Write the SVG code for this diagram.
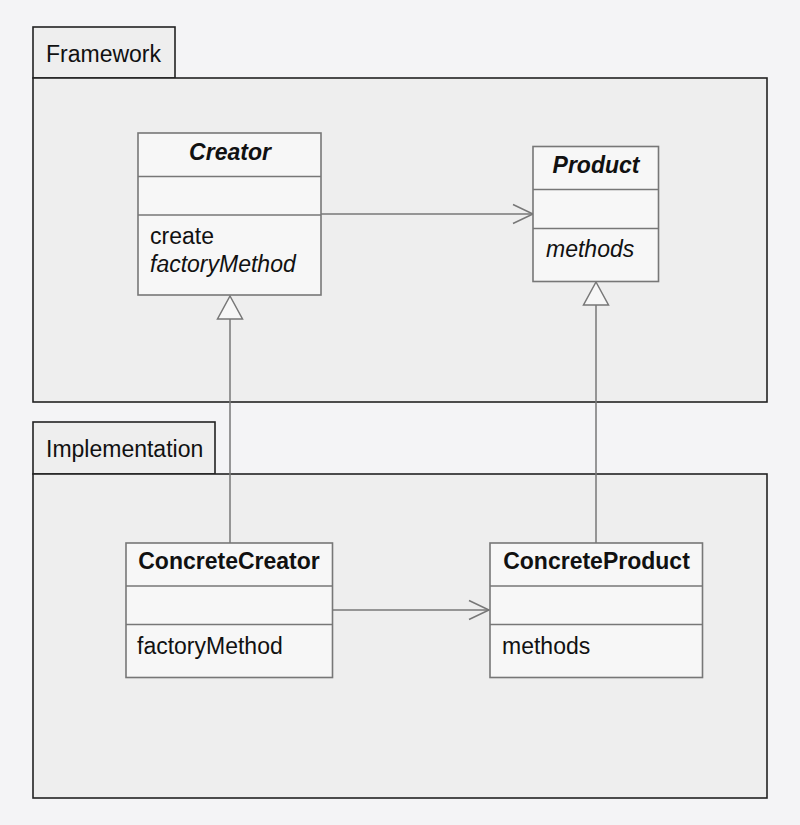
<svg xmlns="http://www.w3.org/2000/svg" width="800" height="825" viewBox="0 0 800 825">
<style>
.bg{fill:#f4f4f6}
.pkg{fill:#eeeeee;stroke:#222;stroke-width:1.6}
.box{fill:#f7f7f7;stroke:#777;stroke-width:1.6}
.sep{stroke:#777;stroke-width:1.6}
.t{font-family:"Liberation Sans",Arial,sans-serif;font-size:23px;fill:#111}
.b{font-weight:bold}
.i{font-style:italic}
.c{text-anchor:middle}
.ln{stroke:#777;stroke-width:1.5;fill:none}
.tri{fill:#f7f7f7;stroke:#777;stroke-width:1.5}
</style>
<defs>
<marker id="open" markerUnits="userSpaceOnUse" markerWidth="24" markerHeight="24" viewBox="-22 -12 24 24" refX="0" refY="0" orient="auto">
<path d="M-20,-9.5 L0,0 L-20,9.5" fill="none" stroke="#777" stroke-width="1.5"/>
</marker>
</defs>
<rect class="bg" x="0" y="0" width="800" height="825"/>
<g id="framework">
<rect class="pkg" x="33" y="27" width="142" height="51"/>
<rect class="pkg" x="33" y="78" width="734" height="324"/>
<text class="t" x="46" y="62">Framework</text>
</g>
<g id="implementation">
<rect class="pkg" x="33" y="422" width="182" height="52"/>
<rect class="pkg" x="33" y="474" width="734" height="324"/>
<text class="t" x="46" y="457">Implementation</text>
</g>
<g id="connectors">
<line class="ln" x1="321" y1="214" x2="533" y2="214" marker-end="url(#open)"/>
<line class="ln" x1="333" y1="610" x2="489" y2="610" marker-end="url(#open)"/>
<line class="ln" x1="230" y1="543" x2="230" y2="319"/>
<path class="tri" d="M230,296 L242.5,319 L217.5,319 Z"/>
<line class="ln" x1="596" y1="543" x2="596" y2="305"/>
<path class="tri" d="M596,282 L608.5,305 L583.5,305 Z"/>
</g>
<g id="creator">
<rect class="box" x="138" y="133" width="183" height="162"/>
<line class="sep" x1="138" y1="176.5" x2="321" y2="176.5"/>
<line class="sep" x1="138" y1="215" x2="321" y2="215"/>
<text class="t b i c" x="230" y="160">Creator</text>
<text class="t" x="150" y="244">create</text>
<text class="t i" x="150" y="272">factoryMethod</text>
</g>
<g id="product">
<rect class="box" x="533" y="146.5" width="125.5" height="135"/>
<line class="sep" x1="533" y1="189.5" x2="658.5" y2="189.5"/>
<line class="sep" x1="533" y1="228.5" x2="658.5" y2="228.5"/>
<text class="t b i c" x="596" y="173">Product</text>
<text class="t i" x="546" y="257">methods</text>
</g>
<g id="concreteCreator">
<rect class="box" x="126" y="543" width="206.5" height="134.5"/>
<line class="sep" x1="126" y1="586" x2="332.5" y2="586"/>
<line class="sep" x1="126" y1="624.5" x2="332.5" y2="624.5"/>
<text class="t b c" x="229" y="569">ConcreteCreator</text>
<text class="t" x="137" y="654">factoryMethod</text>
</g>
<g id="concreteProduct">
<rect class="box" x="490" y="543" width="212.5" height="134.5"/>
<line class="sep" x1="490" y1="586" x2="702.5" y2="586"/>
<line class="sep" x1="490" y1="624.5" x2="702.5" y2="624.5"/>
<text class="t b c" x="596.5" y="569">ConcreteProduct</text>
<text class="t" x="502" y="654">methods</text>
</g>
</svg>
